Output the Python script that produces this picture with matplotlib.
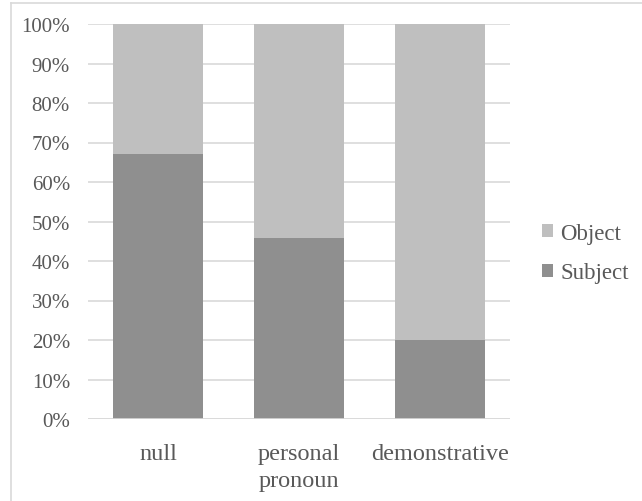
import matplotlib
matplotlib.use("Agg")
import matplotlib.pyplot as plt
from matplotlib.lines import Line2D
from matplotlib.patches import Patch
import numpy as np

categories = ["null", "personal\npronoun", "demonstrative"]
subject = [67.1, 45.8, 20.0]
obj = [32.9, 54.2, 80.0]
yticks = [0, 10, 20, 30, 40, 50, 60, 70, 80, 90, 100]

plt.rcParams['font.family'] = ['Liberation Serif', 'DejaVu Serif']

fig = plt.figure(figsize=(6.42, 5.02), dpi=100)
ax = fig.add_axes([88/642, 82/502, (510-88)/642, (420-25)/502])

x = np.arange(len(categories))
c_sub = "#8f8f8f"
c_obj = "#bfbfbf"
txt = "#595959"
ax.bar(x, subject, width=0.64, color=c_sub, zorder=3)
ax.bar(x, obj, width=0.64, bottom=subject, color=c_obj, zorder=3)

ax.set_xlim(-0.5, 2.5)
ax.set_ylim(0, 100)
ax.set_yticks(yticks)
ax.set_yticklabels([f"{t}%" for t in yticks], fontsize=15, color=txt)
ax.set_xticks(x)
ax.set_xticklabels(categories, fontsize=17.5, color=txt, linespacing=1.38)
ax.tick_params(axis='both', length=0)
ax.tick_params(axis='y', pad=13)
ax.tick_params(axis='x', pad=17)
ax.yaxis.grid(True, color="#d9d9d9", linewidth=1.2, zorder=0)
for s in ax.spines.values():
    s.set_visible(False)
ax.axhline(0, color="#d9d9d9", linewidth=1.2, zorder=4)

handles = [Patch(facecolor=c_obj, label="Object"), Patch(facecolor=c_sub, label="Subject")]
leg = fig.legend(handles=handles, loc="center left", bbox_to_anchor=(542/642, 1 - 254/502),
                 frameon=False, fontsize=16.5, handlelength=0.5, handleheight=0.5,
                 handletextpad=0.3, labelspacing=0.8, labelcolor=txt,
                 borderpad=0, borderaxespad=0)

# figure border
fig.add_artist(Line2D([11/642, 11/642], [0, 1 - 3.5/502], transform=fig.transFigure,
                      color="#d9d9d9", linewidth=1.2))
fig.add_artist(Line2D([11/642, 1], [1 - 3.5/502, 1 - 3.5/502], transform=fig.transFigure,
                      color="#d9d9d9", linewidth=1.2))

fig.savefig("out.png", dpi=100)
